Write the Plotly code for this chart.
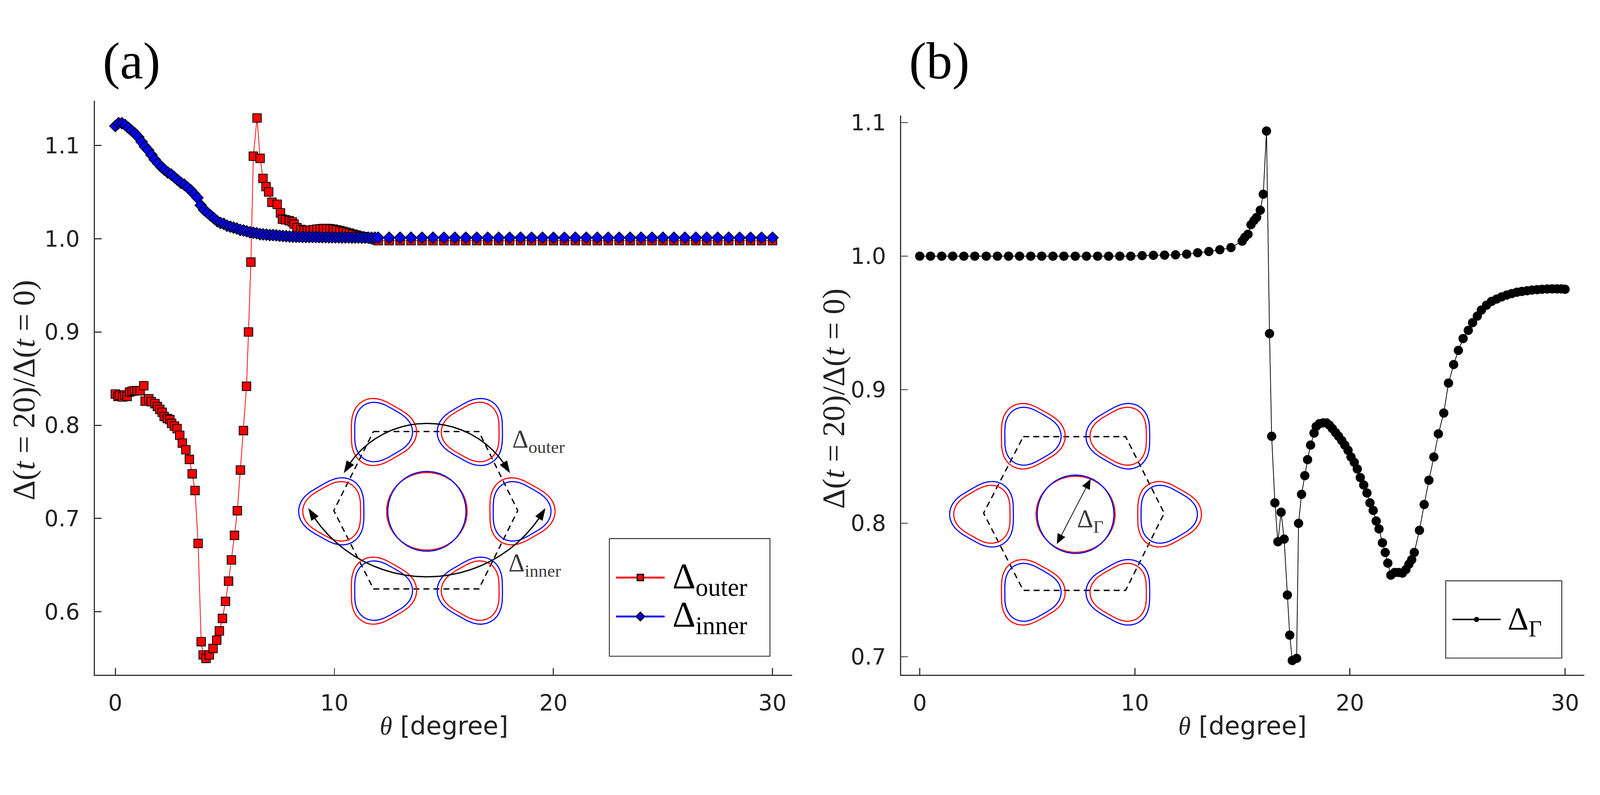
import numpy as np
import plotly.graph_objects as go

W, H = 4314, 2036

# ---------------- data, panel (a) ----------------
theta_outer = [0.00, 0.12, 0.20, 0.33, 0.43, 0.54, 0.65, 0.77, 0.88, 0.99, 1.13, 1.30, 1.36, 1.53,
               1.64, 1.81, 1.92, 2.03, 2.14, 2.23, 2.37, 2.49, 2.57, 2.70, 2.82, 2.94, 3.06, 3.22,
               3.38, 3.51, 3.64, 3.78, 3.92, 4.01, 4.14, 4.29, 4.46, 4.63, 4.75, 4.89, 5.03, 5.17,
               5.30, 5.44, 5.57, 5.71, 5.85, 5.99, 6.08, 6.19, 6.30, 6.47, 6.61, 6.74, 6.88, 7.00,
               7.15, 7.39, 7.54, 7.63, 7.77, 7.94, 8.08, 8.16, 8.29, 8.47, 8.62, 8.76, 8.90, 9.05,
               9.20, 9.35, 9.50, 9.65, 9.80, 9.95, 10.10, 10.25, 10.40, 10.55, 10.70, 10.85, 11.00,
               11.15, 11.30, 11.45, 11.60, 11.75, 11.90,
               12.0, 12.5, 13.0, 13.5, 14.0, 14.5, 15.0, 15.5, 16.0, 16.5, 17.0, 17.5, 18.0, 18.5,
               19.0, 19.5, 20.0, 20.5, 21.0, 21.5, 22.0, 22.5, 23.0, 23.5, 24.0, 24.5, 25.0, 25.5,
               26.0, 26.5, 27.0, 27.5, 28.0, 28.5, 29.0, 29.5, 30.0]
delta_outer = [0.8335, 0.8309, 0.8321, 0.8304, 0.8325, 0.8309, 0.8356, 0.8366, 0.8370, 0.8370,
               0.8370, 0.8424, 0.8259, 0.8284, 0.8253, 0.8232, 0.8201, 0.8170, 0.8139, 0.8094,
               0.8073, 0.8061, 0.8020, 0.7991, 0.7964, 0.7892, 0.7809, 0.7737, 0.7634, 0.7479,
               0.7300, 0.6732, 0.5678, 0.5536, 0.5499, 0.5536, 0.5606, 0.5695, 0.5794, 0.5928,
               0.6111, 0.6328, 0.6555, 0.6819, 0.7083, 0.7520, 0.7943, 0.8418, 0.9001, 0.9750,
               1.0886, 1.1296, 1.0863, 1.0648, 1.0560, 1.0503, 1.0392, 1.0370, 1.0278, 1.0211,
               1.0204, 1.0194, 1.0181, 1.0158, 1.0120, 1.0100, 1.0092, 1.0090, 1.0093, 1.0098,
               1.0103, 1.0107, 1.0110, 1.0110, 1.0108, 1.0103, 1.0096, 1.0088, 1.0079, 1.0070,
               1.0060, 1.0050, 1.0040, 1.0031, 1.0024, 1.0016, 1.0008, 0.9998, 0.9988,
               0.9980, 0.9980, 0.9980, 0.9980, 0.9980, 0.9980, 0.9980, 0.9980, 0.9980, 0.9980,
               0.9980, 0.9980, 0.9980, 0.9980, 0.9980, 0.9980, 0.9980, 0.9980, 0.9980, 0.9980,
               0.9980, 0.9980, 0.9980, 0.9980, 0.9980, 0.9980, 0.9980, 0.9980, 0.9980, 0.9980,
               0.9980, 0.9980, 0.9980, 0.9980, 0.9980, 0.9980, 0.9980]

theta_inner = [0.00, 0.15, 0.30, 0.45, 0.60, 0.75, 0.90, 1.05, 1.20, 1.35, 1.50, 1.65, 1.80, 1.95,
               2.10, 2.25, 2.40, 2.55, 2.70, 2.85, 3.00, 3.15, 3.30, 3.45, 3.60, 3.75, 3.90, 4.05,
               4.20, 4.35, 4.50, 4.65, 4.80, 4.95, 5.10, 5.25, 5.40, 5.55, 5.70, 5.85, 6.00, 6.15,
               6.30, 6.45, 6.60, 6.75, 6.90, 7.05, 7.20, 7.35, 7.50, 7.65, 7.80, 7.95, 8.10, 8.25,
               8.40, 8.55, 8.70, 8.85, 9.00, 9.15, 9.30, 9.45, 9.60, 9.75, 9.90, 10.05, 10.20,
               10.35, 10.50, 10.65, 10.80, 10.95, 11.10, 11.25, 11.40, 11.55, 11.70, 11.85,
               12.0, 12.5, 13.0, 13.5, 14.0, 14.5, 15.0, 15.5, 16.0, 16.5, 17.0, 17.5, 18.0, 18.5,
               19.0, 19.5, 20.0, 20.5, 21.0, 21.5, 22.0, 22.5, 23.0, 23.5, 24.0, 24.5, 25.0, 25.5,
               26.0, 26.5, 27.0, 27.5, 28.0, 28.5, 29.0, 29.5, 30.0]
delta_inner = [1.1210, 1.1240, 1.1240, 1.1220, 1.1190, 1.1160, 1.1130, 1.1090, 1.1040, 1.0990,
               1.0950, 1.0900, 1.0850, 1.0810, 1.0770, 1.0740, 1.0710, 1.0690, 1.0660, 1.0630,
               1.0600, 1.0580, 1.0550, 1.0520, 1.0480, 1.0440, 1.0360, 1.0310, 1.0280, 1.0250,
               1.0220, 1.0190, 1.0170, 1.0160, 1.0140, 1.0130, 1.0120, 1.0110, 1.0095, 1.0090,
               1.0080, 1.0070, 1.0065, 1.0060, 1.0050, 1.0048, 1.0045, 1.0040, 1.0040, 1.0037,
               1.0033, 1.0030, 1.0028, 1.0025, 1.0023, 1.0022, 1.0021, 1.0020, 1.0020, 1.0019,
               1.0019, 1.0018, 1.0018, 1.0017, 1.0017, 1.0016, 1.0016, 1.0015, 1.0015, 1.0015,
               1.0014, 1.0014, 1.0013, 1.0013, 1.0013, 1.0012, 1.0012, 1.0012, 1.0012, 1.0012,
               1.0012, 1.0012, 1.0012, 1.0012, 1.0012, 1.0012, 1.0012, 1.0012, 1.0012, 1.0012,
               1.0012, 1.0012, 1.0012, 1.0012, 1.0012, 1.0012, 1.0012, 1.0012, 1.0012, 1.0012,
               1.0012, 1.0012, 1.0012, 1.0012, 1.0012, 1.0012, 1.0012, 1.0012, 1.0012, 1.0012,
               1.0012, 1.0012, 1.0012, 1.0012, 1.0012, 1.0012, 1.0012]

# ---------------- data, panel (b) ----------------
theta_gamma = [0.00, 0.50, 1.02, 1.53, 2.05, 2.56, 3.09, 3.61, 4.13, 4.64, 5.16, 5.67, 6.19, 6.70,
               7.23, 7.75, 8.27, 8.78, 9.30, 9.81, 10.34, 10.86, 11.38, 11.89, 12.41, 12.92, 13.44,
               13.95, 14.47, 14.99, 15.11, 15.26, 15.40, 15.54, 15.66, 15.83, 15.97, 16.12, 16.26,
               16.36, 16.51, 16.65, 16.80, 16.94, 17.09, 17.20, 17.32, 17.52, 17.61, 17.75, 17.90,
               18.03, 18.17, 18.33, 18.43, 18.58, 18.75, 18.91, 19.04, 19.18, 19.33, 19.47, 19.62,
               19.76, 19.91, 20.05, 20.20, 20.34, 20.48, 20.64, 20.79, 20.93, 21.08, 21.22, 21.35,
               21.51, 21.64, 21.76, 21.90, 22.08, 22.26, 22.44, 22.60, 22.74, 22.87, 22.99, 23.23,
               23.45, 23.67, 23.90, 24.11, 24.36, 24.58, 24.82, 25.04, 25.26, 25.50, 25.70, 25.92,
               26.11, 26.35, 26.58, 26.82, 27.05, 27.29, 27.52, 27.76, 27.99, 28.23, 28.46, 28.70,
               28.93, 29.17, 29.40, 29.62, 29.83, 30.00]
delta_gamma = [1.0000, 1.0000, 1.0000, 1.0000, 1.0000, 1.0000, 1.0000, 1.0000, 1.0000, 1.0000,
               1.0000, 1.0000, 1.0000, 1.0000, 1.0000, 1.0000, 1.0000, 1.0000, 1.0000, 1.0000,
               1.0004, 1.0006, 1.0008, 1.0010, 1.0015, 1.0025, 1.0035, 1.0048, 1.0064, 1.0112,
               1.0141, 1.0164, 1.0236, 1.0267, 1.0290, 1.0344, 1.0464, 1.0937, 0.9420, 0.8651,
               0.8152, 0.7861, 0.8082, 0.7881, 0.7462, 0.7162, 0.6972, 0.6988, 0.7999, 0.8216,
               0.8356, 0.8476, 0.8585, 0.8675, 0.8725, 0.8745, 0.8751, 0.8751, 0.8735, 0.8709,
               0.8679, 0.8651, 0.8619, 0.8585, 0.8546, 0.8496, 0.8456, 0.8406, 0.8342, 0.8286,
               0.8226, 0.8152, 0.8096, 0.8016, 0.7957, 0.7853, 0.7781, 0.7701, 0.7611, 0.7631,
               0.7631, 0.7627, 0.7653, 0.7693, 0.7727, 0.7781, 0.7947, 0.8140, 0.8322, 0.8496,
               0.8669, 0.8825, 0.9049, 0.9188, 0.9294, 0.9383, 0.9444, 0.9502, 0.9551, 0.9596,
               0.9633, 0.9661, 0.9679, 0.9695, 0.9709, 0.9720, 0.9730, 0.9736, 0.9741, 0.9746,
               0.9749, 0.9752, 0.9754, 0.9755, 0.9755, 0.9755, 0.9752]

x_ticks = [0, 10, 20, 30]
y_ticks_a = [0.6, 0.7, 0.8, 0.9, 1.0, 1.1]
y_ticks_b = [0.7, 0.8, 0.9, 1.0, 1.1]

RED, BLUE, AX = "#ff0000", "#0000ff", "#333333"
SERIF, SANS = "Liberation Serif", "DejaVu Sans"

fig = go.Figure()

fig.add_trace(go.Scatter(x=theta_outer, y=delta_outer, mode="lines+markers", xaxis="x", yaxis="y",
                         line=dict(color=RED, width=2),
                         marker=dict(symbol="square", size=23, color=RED, line=dict(color="black", width=2.2))))
fig.add_trace(go.Scatter(x=theta_inner, y=delta_inner, mode="lines+markers", xaxis="x", yaxis="y",
                         line=dict(color=BLUE, width=2),
                         marker=dict(symbol="diamond", size=24, color=BLUE, line=dict(color="black", width=2.2))))
fig.add_trace(go.Scatter(x=theta_gamma, y=delta_gamma, mode="lines+markers", xaxis="x2", yaxis="y2",
                         line=dict(color="black", width=2),
                         marker=dict(symbol="circle", size=25, color="black")))


# ---------------- schematic insets (pixel canvas x3/y3) ----------------
def canvas_line(xs, ys, color, width, dash=None, fill=None):
    fig.add_trace(go.Scatter(x=list(xs), y=list(ys), mode="lines", xaxis="x3", yaxis="y3",
                             line=dict(color=color, width=width, dash=dash),
                             fill=fill, fillcolor=color if fill else None))


def lobe(lx, ly, phi, r0, eps=0.1):
    a = np.linspace(0, 2 * np.pi, 241)
    r = r0 * (1 + eps * np.cos(3 * (a - phi)))
    return lx + r * np.cos(a), ly - r * np.sin(a)


def head(tip, u, length=32, width=22):
    u = np.asarray(u, float) / np.hypot(*u)
    n = np.array([-u[1], u[0]])
    b = np.asarray(tip) - length * u
    p1, p2 = b + width / 2 * n, b - width / 2 * n
    canvas_line([tip[0], p1[0], p2[0], tip[0]], [tip[1], p1[1], p2[1], tip[1]], "black", 1, fill="toself")


def inset(cx, cy, r_lobe, r0, circ_r, hexagon):
    hx = [p[0] for p in hexagon] + [hexagon[0][0]]
    hy = [p[1] for p in hexagon] + [hexagon[0][1]]
    canvas_line(hx, hy, "black", 3.5, dash="16px,11px")
    for k in range(6):
        phi = np.deg2rad(60 * k)
        lx, ly = cx + r_lobe * np.cos(phi), cy - r_lobe * np.sin(phi)
        outer, inner = (RED, BLUE) if k % 2 == 0 else (BLUE, RED)
        canvas_line(*lobe(lx, ly, phi, r0), outer, 3)
        canvas_line(*lobe(lx, ly, phi, r0 - 10), inner, 3)
    a = np.linspace(0, 2 * np.pi, 241)
    canvas_line(cx + (circ_r + 1.5) * np.cos(a), cy - (circ_r - 1.5) * np.sin(a), RED, 3)
    canvas_line(cx + (circ_r - 1.5) * np.cos(a), cy - (circ_r + 1.5) * np.sin(a), BLUE, 3)


def arc_arrow(cx, cy, R, t0, t1, hl=32):
    # arc from angle t0 to t1 (degrees), arrowheads at both ends
    d0, d1 = np.deg2rad(t0), np.deg2rad(t1)
    sgn = np.sign(d1 - d0)
    dt = hl / R
    a = np.linspace(d0 + sgn * dt, d1 - sgn * dt, 120)
    canvas_line(cx + R * np.cos(a), cy - R * np.sin(a), "black", 3.5)
    for tip_a, back_a in [(d0, d0 + sgn * dt), (d1, d1 - sgn * dt)]:
        tip = (cx + R * np.cos(tip_a), cy - R * np.sin(tip_a))
        back = (cx + R * np.cos(back_a), cy - R * np.sin(back_a))
        head(tip, (tip[0] - back[0], tip[1] - back[1]), length=hl)


inset(1151, 1374, 249, 88, 107,
      [(1007, 1157), (1291, 1157), (1396, 1372), (1291, 1585), (1007, 1585), (900, 1372)])
arc_arrow(1151, 1388, 253, 28, 152)
arc_arrow(1151, 1185, 367, -29.6, -150.4)

inset(2900, 1382, 245, 86, 105,
      [(2759, 1171), (3035, 1171), (3139, 1379), (3035, 1589), (2759, 1589), (2652, 1379)])
p_a, p_b = np.array([2940.0, 1287.0]), np.array([2850.0, 1462.0])
u = (p_a - p_b) / np.hypot(*(p_a - p_b))
canvas_line([p_b[0] + 24 * u[0], p_a[0] - 24 * u[0]], [p_b[1] + 24 * u[1], p_a[1] - 24 * u[1]], "black", 2)
head(p_a, u, length=26, width=22)
head(p_b, -u, length=26, width=22)

# ---------------- hand-drawn legends ----------------
def legend_entry(x0, x1, y, color, symbol, msize, lw=5, mcolor=None):
    canvas_line([x0, x1], [y, y], color, lw)
    fig.add_trace(go.Scatter(x=[(x0 + x1) / 2], y=[y], mode="markers", xaxis="x3", yaxis="y3",
                             marker=dict(symbol=symbol, size=msize, color=mcolor or color,
                                         line=dict(color="black", width=3))))


legend_entry(1661, 1792, 1554, RED, "square", 17)
legend_entry(1661, 1792, 1660, BLUE, "diamond", 18)
legend_entry(3916, 4046, 1668, "black", "circle", 11, lw=4)

shapes = [
    dict(type="rect", xref="x3", yref="y3", x0=1643, x1=2076, y0=1448, y1=1768,
         line=dict(color=AX, width=2.5)),
    dict(type="rect", xref="x3", yref="y3", x0=3898, x1=4211, y0=1563, y1=1773,
         line=dict(color=AX, width=2.5)),
]


def label(x, y, text, size, family=SERIF, color="black", xanchor="left", angle=0):
    return dict(x=x, y=y, xref="x3", yref="y3", text=text, showarrow=False, xanchor=xanchor,
                yanchor="middle", textangle=angle, font=dict(family=family, size=size, color=color))


ylab = "Δ(<i>t</i> = 20)/Δ(<i>t</i> = 0)"
xlab = "<span style='font-family:Liberation Serif'><i>θ</i></span> [degree]"
annotations = [
    label(354, 150, "(a)", 140, xanchor="center"),
    label(2532, 150, "(b)", 140, xanchor="center"),
    label(1811, 1558, "Δ<sub>outer</sub>", 97),
    label(1811, 1662, "Δ<sub>inner</sub>", 97),
    label(4063, 1672, "Δ<sub>Γ</sub>", 88),
    label(1379, 1182, "Δ<sub>outer</sub>", 68, color="#3a3a3a"),
    label(1369, 1518, "Δ<sub>inner</sub>", 68, color="#3a3a3a"),
    label(2902, 1398, "Δ<sub>Γ</sub>", 68, color="#3a3a3a"),
    label(65, 1045, ylab, 84, xanchor="center", angle=-90, color="#222"),
    label(2248, 1068, ylab, 84, xanchor="center", angle=-90, color="#222"),
    label(1197, 1957, xlab, 68, family=SANS, xanchor="center", color="#222"),
    label(3350, 1957, xlab, 68, family=SANS, xanchor="center", color="#222"),
]

axis_style = dict(showline=True, linecolor=AX, linewidth=3, mirror=False, showgrid=False,
                  zeroline=False, ticks="inside", ticklen=18, tickwidth=2.5, tickcolor=AX,
                  tickfont=dict(family=SANS, size=60, color="#222"))

fig.update_layout(
    width=W, height=H, margin=dict(l=0, r=0, t=0, b=0),
    paper_bgcolor="white", plot_bgcolor="rgba(0,0,0,0)",
    showlegend=False, hovermode=False,
    xaxis=dict(domain=[256 / W, 2136 / W], range=[-0.93, 30.9], tickvals=x_ticks,
               anchor="y", ticklabelstandoff=22, **axis_style),
    yaxis=dict(domain=[1 - 1818 / H, 1 - 258 / H], range=[0.5325, 1.148], tickvals=y_ticks_a,
               tickformat=".1f", anchor="x", ticklabelstandoff=26, **axis_style),
    xaxis2=dict(domain=[2430 / W, 4272 / W], range=[-0.86, 30.9], tickvals=x_ticks,
                anchor="y2", ticklabelstandoff=22, **axis_style),
    yaxis2=dict(domain=[1 - 1818 / H, 1 - 298 / H], range=[0.6866, 1.1053], tickvals=y_ticks_b,
                tickformat=".1f", anchor="x2", ticklabelstandoff=26, **axis_style),
    xaxis3=dict(domain=[0, 1], range=[0, W], visible=False, anchor="y3", fixedrange=True),
    yaxis3=dict(domain=[0, 1], range=[H, 0], visible=False, anchor="x3", fixedrange=True),
    shapes=shapes, annotations=annotations,
)

# keep the whole fixed-size figure inside the browser viewport
fit_js = """
var gd = document.getElementById('{plot_id}');
document.documentElement.style.overflow = 'hidden';
document.body.style.margin = '0';
document.body.style.overflow = 'hidden';
var s = Math.min(window.innerWidth / %d, window.innerHeight / %d);
gd.style.transformOrigin = '0 0';
gd.style.transform = 'scale(' + s + ')';
""" % (W, H)

fig.write_html("out.html", config={"displayModeBar": False}, post_script=fit_js)
